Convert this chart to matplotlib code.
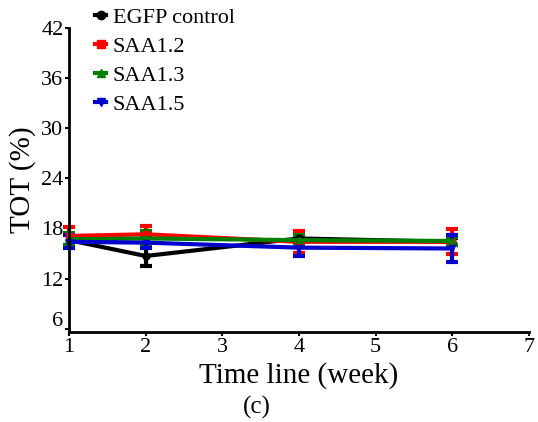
import matplotlib
matplotlib.use('Agg')
import matplotlib.pyplot as plt
import matplotlib.transforms as mtransforms
from matplotlib.lines import Line2D

# data
weeks = [1, 2, 4, 6]
egfp = [16.6, 14.7, 16.8, 16.4]
egfp_err = [0.6, 1.2, 0.5, 0.4]
saa12 = [17.1, 17.3, 16.4, 16.4]
saa12_err = [1.1, 1.0, 1.3, 1.5]
saa13 = [16.7, 16.8, 16.6, 16.5]
saa13_err = [0.7, 0.9, 0.6, 0.5]
saa15 = [16.4, 16.3, 15.7, 15.6]
saa15_err = [0.8, 0.6, 1.0, 1.6]

series = [
    ('EGFP control', egfp, egfp_err, 'black', 'o'),
    ('SAA1.2', saa12, saa12_err, '#ff0000', 's'),
    ('SAA1.3', saa13, saa13_err, '#008000', '^'),
    ('SAA1.5', saa15, saa15_err, '#0000cc', 'v'),
]
yticks = [6, 12, 18, 24, 30, 36, 42]
xticks = [1, 2, 3, 4, 5, 6, 7]

plt.rcParams['font.family'] = ['Liberation Serif', 'DejaVu Serif']

fig = plt.figure(figsize=(5.38, 4.22), dpi=100)
ax = fig.add_axes([69 / 538, 1 - 332 / 422, 460 / 538, 304 / 422])

handles = []
for name, vals, errs, col, mk in series:
    ax.errorbar(weeks, vals, yerr=errs, color=col, lw=3, marker=mk, ms=5,
                elinewidth=3, capsize=4, capthick=3, clip_on=False)
    handles.append(Line2D([0], [0], color=col, lw=3, marker=mk, ms=6))

ax.set_xlim(1, 7)
ax.set_ylim(5.6, 42)
ax.set_xticks(xticks)
ax.set_yticks(yticks)
ax.tick_params(labelsize=16, width=1.5, length=3, pad=1)
for s in ['top', 'right']:
    ax.spines[s].set_visible(False)
for s in ['left', 'bottom']:
    ax.spines[s].set_linewidth(2)

# the "6" label sits a bit above the x axis in the original
lab6 = ax.get_yticklabels()[0]
lab6.set_transform(lab6.get_transform() + mtransforms.ScaledTranslation(0, 10 / 100, fig.dpi_scale_trans))

ax.set_xlabel('Time line (week)', fontsize=21, labelpad=4)
ax.set_ylabel('TOT (%)', fontsize=21, labelpad=4)

fig.legend(handles, [s[0] for s in series], loc='upper left',
           bbox_to_anchor=(84 / 538, 1 + 4 / 422), frameon=False, fontsize=16,
           handlelength=0.5, handletextpad=0.3, labelspacing=0.38, borderpad=0)

fig.text(257 / 538, 1 - 407 / 422, '(c)', fontsize=18, ha='center', va='center')

fig.savefig('out.png', dpi=100)
